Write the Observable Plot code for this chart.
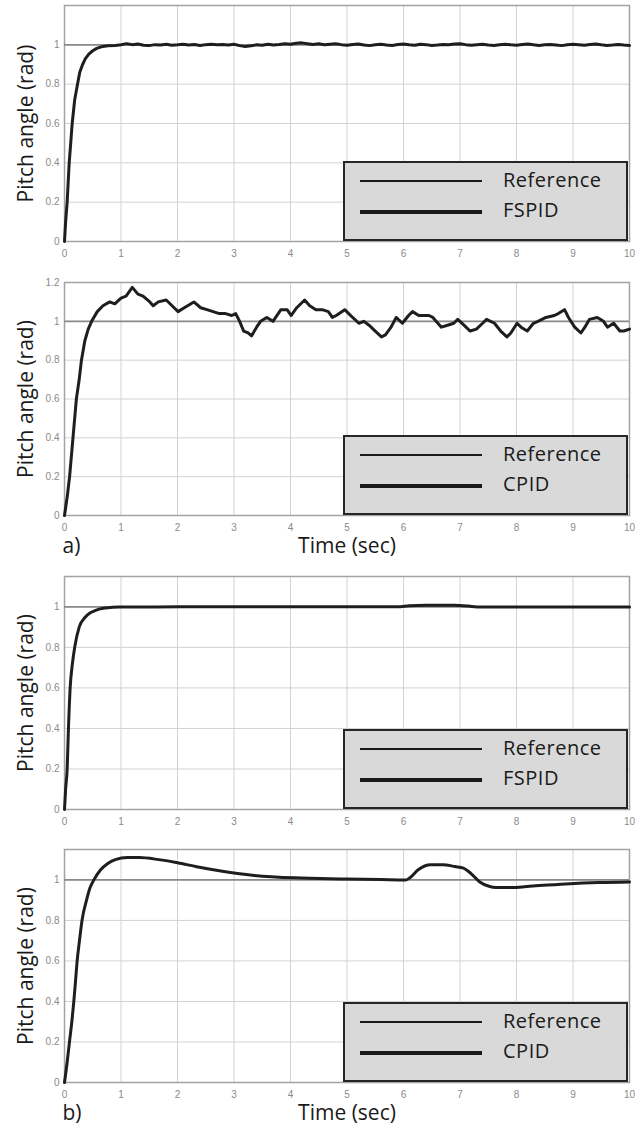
<!DOCTYPE html>
<html>
<head>
<meta charset="utf-8">
<script src="https://cdn.jsdelivr.net/npm/d3@7"></script>
<script src="https://cdn.jsdelivr.net/npm/@observablehq/plot@0.6"></script>
<style>
  html, body { margin: 0; padding: 0; background: #ffffff; }
  #wrap { position: relative; width: 642px; height: 1131px; overflow: hidden; }
  .panel { position: absolute; left: 0; }
  .panel svg { overflow: visible; }
  g[aria-label="y-axis label"] text, g[aria-label="x-axis label"] text {
    font-family: "Open Sans", sans-serif; font-size: 21px; fill: #1a1a1a;
  }
  .legend {
    position: absolute; left: 343px; width: 281px; height: 76px;
    background: #d9d9d9; border: 2px solid #262626;
    font-family: "Open Sans", sans-serif; font-size: 20px; color: #1a1a1a;
  }
  .legend .ln { position: absolute; left: 15px; width: 122px; background: #1a1a1a; }
  .legend .tx { position: absolute; left: 158px; line-height: 20px; letter-spacing: 0.5px; white-space: nowrap; }
</style>
</head>
<body>
<div id="wrap"></div>
<script>
// ---------- data ----------
const xTicks = [0, 1, 2, 3, 4, 5, 6, 7, 8, 9, 10];
const yTicksShort = [0, 0.2, 0.4, 0.6, 0.8, 1];
const yTicksLong = [0, 0.2, 0.4, 0.6, 0.8, 1, 1.2];
const referenceLevel = [1];
const legendA1 = ["Reference", "FSPID"];
const legendA2 = ["Reference", "CPID"];
const legendB1 = ["Reference", "FSPID"];
const legendB2 = ["Reference", "CPID"];

// (a) FSPID response [time, pitch]
const fspidA = [
  [0,0],[0.02,0.1],[0.047,0.2],[0.065,0.3],[0.083,0.4],[0.11,0.5],[0.136,0.6],[0.18,0.72],
  [0.23,0.8],[0.27,0.86],[0.32,0.9],[0.37,0.93],[0.43,0.953],[0.5,0.97],[0.57,0.982],
  [0.65,0.99],[0.77,0.995],[0.9,0.997],[1.0,1.0],[1.1,1.006],[1.2,1.001],[1.3,1.004],
  [1.4,0.998],[1.5,0.996],[1.6,1.001],[1.7,0.999],[1.8,1.003],[1.9,0.998],[2.0,1.0],
  [2.1,1.003],[2.2,0.999],[2.3,1.002],[2.4,0.997],[2.5,1.001],[2.6,1.003],[2.7,1.0],
  [2.8,1.002],[2.9,0.999],[3.0,1.003],[3.1,0.996],[3.2,0.991],[3.3,0.995],[3.4,1.0],
  [3.5,0.998],[3.6,1.003],[3.7,0.999],[3.8,1.002],[3.9,1.006],[4.0,1.003],[4.1,1.008],
  [4.2,1.01],[4.3,1.006],[4.4,1.002],[4.5,1.005],[4.6,1.0],[4.7,1.003],[4.8,1.006],
  [4.9,1.001],[5.0,0.998],[5.1,1.002],[5.2,1.004],[5.3,0.999],[5.4,0.996],[5.5,1.0],
  [5.6,1.003],[5.7,0.999],[5.8,0.997],[5.9,1.002],[6.0,1.004],[6.1,1.0],[6.2,0.998],
  [6.3,1.003],[6.4,1.001],[6.5,0.997],[6.6,0.999],[6.7,1.002],[6.8,1.0],[6.9,1.004],
  [7.0,1.005],[7.1,1.001],[7.2,0.998],[7.3,1.001],[7.4,1.003],[7.5,0.999],[7.6,0.997],
  [7.7,1.0],[7.8,1.003],[7.9,1.0],[8.0,0.998],[8.1,1.002],[8.2,1.004],[8.3,1.0],
  [8.4,0.997],[8.5,1.0],[8.6,1.002],[8.7,0.999],[8.8,0.996],[8.9,1.0],[9.0,1.003],
  [9.1,1.001],[9.2,0.998],[9.3,1.002],[9.4,1.004],[9.5,1.0],[9.6,0.997],[9.7,0.999],
  [9.8,1.002],[9.9,0.999],[10,0.997]
];

// (a) CPID response
const cpidA = [
  [0,0],[0.05,0.1],[0.09,0.2],[0.15,0.4],[0.21,0.6],[0.26,0.7],[0.3,0.8],[0.36,0.9],
  [0.42,0.96],[0.48,1.0],[0.58,1.05],[0.68,1.08],[0.8,1.1],[0.89,1.09],[1.0,1.12],
  [1.09,1.13],[1.2,1.175],[1.3,1.14],[1.39,1.13],[1.51,1.1],[1.57,1.08],[1.66,1.1],
  [1.8,1.11],[1.94,1.07],[2.01,1.05],[2.12,1.07],[2.29,1.1],[2.41,1.07],[2.52,1.06],
  [2.63,1.05],[2.74,1.04],[2.85,1.04],[2.96,1.03],[3.03,1.04],[3.1,1.0],[3.17,0.95],
  [3.25,0.94],[3.31,0.925],[3.4,0.97],[3.47,1.0],[3.58,1.02],[3.69,1.0],[3.83,1.06],
  [3.94,1.06],[4.01,1.03],[4.11,1.07],[4.25,1.11],[4.34,1.08],[4.45,1.06],[4.56,1.06],
  [4.67,1.05],[4.74,1.02],[4.81,1.03],[4.96,1.06],[5.03,1.04],[5.1,1.02],[5.21,0.99],
  [5.3,1.0],[5.39,0.98],[5.5,0.95],[5.61,0.92],[5.68,0.93],[5.78,0.97],[5.87,1.02],
  [5.98,0.99],[6.09,1.03],[6.16,1.05],[6.27,1.03],[6.45,1.03],[6.52,1.02],[6.67,0.97],
  [6.78,0.98],[6.89,0.99],[6.96,1.01],[7.07,0.98],[7.18,0.95],[7.29,0.96],[7.4,0.99],
  [7.47,1.01],[7.61,0.99],[7.72,0.95],[7.83,0.92],[7.9,0.94],[8.01,0.99],[8.08,0.97],
  [8.19,0.95],[8.3,0.99],[8.38,1.0],[8.52,1.02],[8.67,1.03],[8.74,1.04],[8.85,1.06],
  [8.92,1.02],[9.03,0.97],[9.14,0.94],[9.21,0.97],[9.29,1.01],[9.43,1.02],[9.54,1.0],
  [9.61,0.97],[9.72,0.99],[9.83,0.95],[9.9,0.95],[10,0.96]
];

// (b) FSPID response
const fspidB = [
  [0,0],[0.02,0.1],[0.047,0.2],[0.07,0.4],[0.1,0.6],[0.14,0.72],[0.18,0.8],[0.26,0.9],
  [0.37,0.95],[0.45,0.97],[0.53,0.98],[0.63,0.99],[0.73,0.995],[0.97,1.0],[1.6,1.0],
  [2.5,1.001],[4.0,1.001],[5.9,1.001],[6.1,1.006],[6.4,1.008],[6.9,1.008],[7.15,1.004],
  [7.3,1.0],[8.5,1.0],[10,1.0]
];

// (b) CPID response
const cpidB = [
  [0,0],[0.047,0.1],[0.088,0.2],[0.13,0.3],[0.165,0.4],[0.195,0.5],[0.224,0.6],[0.265,0.7],
  [0.31,0.8],[0.39,0.9],[0.45,0.96],[0.52,1.0],[0.64,1.05],[0.76,1.08],[0.9,1.1],
  [1.11,1.11],[1.32,1.11],[1.67,1.1],[2.0,1.085],[2.34,1.065],[2.74,1.045],[3.36,1.022],
  [4.08,1.01],[5.0,1.005],[5.6,1.002],[6.04,1.0],[6.12,1.012],[6.26,1.05],[6.48,1.075],
  [6.7,1.075],[6.91,1.066],[7.06,1.058],[7.2,1.03],[7.35,0.99],[7.5,0.97],[7.64,0.962],
  [7.86,0.962],[8.29,0.97],[8.87,0.98],[9.46,0.987],[10,0.99]
];

// ---------- layout ----------
const FRAME_H = 233;
const panels = [
  {values: fspidA, legend: legendA1, yMax: 1.2, yTicks: yTicksShort, curve: "linear",
   top: 0, mt: 5, fh: 236, mb: 22, xLabel: null, tag: null},
  {values: cpidA, legend: legendA2, yMax: 1.2, yTicks: yTicksLong, curve: "linear",
   top: 270, mt: 12, fh: FRAME_H, mb: 45, xLabel: "Time (sec)", tag: "a)"},
  {values: fspidB, legend: legendB1, yMax: 1.15, yTicks: yTicksShort, curve: "monotone-x",
   top: 560, mt: 16, fh: FRAME_H, mb: 22, xLabel: null, tag: null},
  {values: cpidB, legend: legendB2, yMax: 1.15, yTicks: yTicksShort, curve: "monotone-x",
   top: 835, mt: 14, fh: FRAME_H, mb: 49, xLabel: "Time (sec)", tag: "b)"}
];

const wrap = document.getElementById("wrap");

panels.forEach(cfg => {
  const data = cfg.values.map(([t, v]) => ({t, v}));
  const marks = [
    Plot.gridX(xTicks, {stroke: "#d2d2d2", strokeOpacity: 1}),
    Plot.gridY(cfg.yTicks, {stroke: "#d2d2d2", strokeOpacity: 1}),
    Plot.frame({stroke: "#a3a3a3", strokeWidth: 1.5}),
    Plot.ruleY(referenceLevel, {stroke: "#8a8a8a", strokeWidth: 1.6}),
    Plot.line(data, {x: "t", y: "v", stroke: "#1e1e1e", strokeWidth: 3, curve: cfg.curve}),
    Plot.axisX({ticks: xTicks, tickSize: 0, tickPadding: 8, fontSize: 10, fill: "#8a8a8a",
      label: cfg.xLabel, labelAnchor: "center", labelArrow: "none", labelOffset: 37}),
    Plot.axisY({ticks: cfg.yTicks, tickSize: 0, tickPadding: 5, fontSize: 10, fill: "#8a8a8a",
      tickFormat: d3.format("~g"),
      label: "Pitch angle (rad)", labelAnchor: "center", labelArrow: "none", labelOffset: 46})
  ];
  if (cfg.tag) {
    marks.push(Plot.text([cfg.tag], {text: d => d, frameAnchor: "bottom-left", dx: -2, dy: 37,
      lineAnchor: "bottom", textAnchor: "start", fontSize: 21, fill: "#1a1a1a",
      fontFamily: "Open Sans, sans-serif"}));
  }
  const chart = Plot.plot({
    width: 642,
    height: cfg.mt + cfg.fh + cfg.mb,
    marginLeft: 64, marginRight: 13, marginTop: cfg.mt, marginBottom: cfg.mb,
    style: {fontFamily: "'Liberation Sans', Arial, sans-serif", background: "transparent"},
    x: {domain: [0, 10]},
    y: {domain: [0, cfg.yMax]},
    marks
  });
  const div = document.createElement("div");
  div.className = "panel";
  div.style.top = cfg.top + "px";
  div.appendChild(chart);
  wrap.appendChild(div);

  // legend box (bottom aligned with frame)
  const frameBottom = cfg.top + cfg.mt + cfg.fh;
  const lg = document.createElement("div");
  lg.className = "legend";
  lg.style.top = (frameBottom - 80) + "px";
  const rows = [
    {label: cfg.legend[0], lineTop: 17, thick: 2, textTop: 7},
    {label: cfg.legend[1], lineTop: 47, thick: 4, textTop: 37}
  ];
  rows.forEach(r => {
    const ln = document.createElement("div");
    ln.className = "ln";
    ln.style.top = r.lineTop + "px";
    ln.style.height = r.thick + "px";
    lg.appendChild(ln);
    const tx = document.createElement("div");
    tx.className = "tx";
    tx.style.top = r.textTop + "px";
    tx.textContent = r.label;
    lg.appendChild(tx);
  });
  wrap.appendChild(lg);
});
</script>
</body>
</html>
